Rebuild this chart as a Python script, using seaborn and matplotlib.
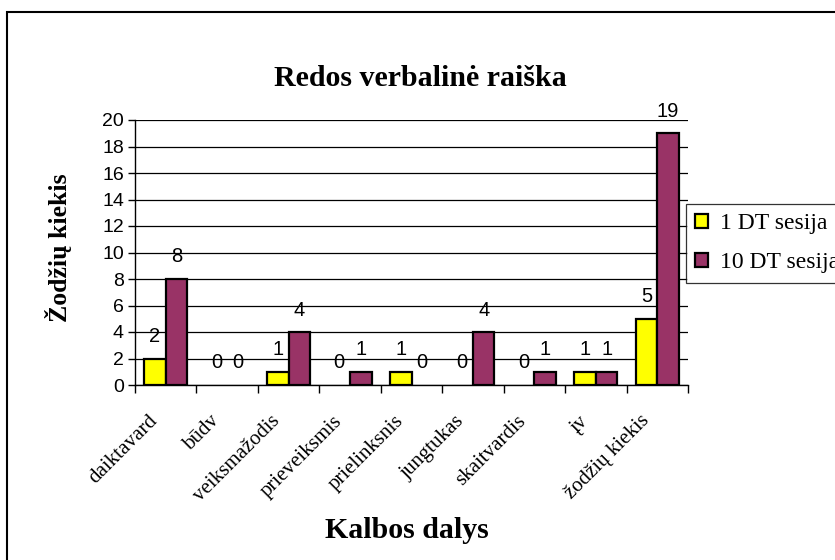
import matplotlib.pyplot as plt
import matplotlib.transforms as mtransforms
from matplotlib.patches import Rectangle
import numpy as np
import pandas as pd
import seaborn as sns

categories = ['daiktavard', 'būdv', 'veiksmažodis', 'prieveiksmis', 'prielinksnis',
              'jungtukas', 'skaitvardis', 'įv', 'žodžių kiekis']
session_1 = [2, 0, 1, 0, 1, 0, 0, 1, 5]
session_10 = [8, 0, 4, 1, 0, 4, 1, 1, 19]
series_names = ['1 DT sesija', '10 DT sesija']
y_ticks = [0, 2, 4, 6, 8, 10, 12, 14, 16, 18, 20]

df = pd.DataFrame({
    'kategorija': categories * 2,
    'reiksme': session_1 + session_10,
    'sesija': [series_names[0]] * len(categories) + [series_names[1]] * len(categories),
})

serif = 'Liberation Serif'
sans = 'Liberation Sans'

fig = plt.figure(figsize=(8.35, 5.6), dpi=100)
ax = fig.add_axes([135 / 835, 1 - 385 / 560, (688 - 135) / 835, (385 - 120) / 560])

sns.barplot(data=df, x='kategorija', y='reiksme', hue='sesija',
            palette=['#FFFF00', '#993366'], saturation=1, edgecolor='black', linewidth=1.6,
            width=0.7, ax=ax, legend=True)

# empty bars draw no outline
for p in ax.patches:
    if p.get_height() == 0:
        p.set_linewidth(0)

ax.set_ylim(0, 20)
ax.set_xlim(-0.5, len(categories) - 0.5)
ax.set_yticks(y_ticks)
ax.set_yticklabels([str(t) for t in y_ticks], fontfamily=sans, fontsize=14)
ax.yaxis.grid(True, color='black', linewidth=0.9)
ax.set_axisbelow(True)
for s in ['top', 'right']:
    ax.spines[s].set_visible(False)
for s in ['left', 'bottom']:
    ax.spines[s].set_color('black')
    ax.spines[s].set_linewidth(1.0)
ax.tick_params(axis='y', length=5, width=1, color='black', pad=3)

# category boundaries get the ticks, labels sit at the centres
ax.set_xticks(np.arange(len(categories)))
ax.set_xticklabels(categories, fontfamily=serif, fontsize=15,
                   rotation=45, ha='right', va='center', rotation_mode='anchor')
ax.tick_params(axis='x', which='major', length=0, pad=24)
ax.set_xticks(np.arange(-0.5, len(categories), 1), minor=True)
ax.tick_params(axis='x', which='minor', length=6, width=1, color='black')
shift = mtransforms.ScaledTranslation(-11 / 100, 0, fig.dpi_scale_trans)
for lab in ax.get_xticklabels():
    lab.set_transform(lab.get_transform() + shift)

ax.set_xlabel('')
ax.set_ylabel('')

for cont in ax.containers:
    ax.bar_label(cont, fmt='%d', padding=9, fontfamily=sans, fontsize=14.5)

handles, labels = ax.get_legend_handles_labels()
leg = ax.legend(handles, labels, loc='upper left',
                bbox_to_anchor=(686 / 835, 1 - 204 / 560), bbox_transform=fig.transFigure,
                prop={'family': serif, 'size': 17}, handlelength=0.55, handleheight=0.55,
                handletextpad=0.5, labelspacing=0.75, borderpad=0.4,
                frameon=True, fancybox=False, borderaxespad=0)
leg.get_frame().set_edgecolor('black')
leg.get_frame().set_linewidth(0.9)
for h in leg.legend_handles:
    h.set_linewidth(1.6)

fig.text(420 / 835, 1 - 78 / 560, 'Redos verbalinė raiška', ha='center', va='center',
         fontfamily=serif, fontweight='bold', fontsize=21.5)
fig.text(407 / 835, 1 - 530 / 560, 'Kalbos dalys', ha='center', va='center',
         fontfamily=serif, fontweight='bold', fontsize=21.5)
fig.text(58 / 835, 1 - 248 / 560, 'Žodžių kiekis', ha='center', va='center', rotation=90,
         fontfamily=serif, fontweight='bold', fontsize=18.5)

fig.add_artist(Rectangle((7 / 835, -0.1), 1.2, 1 - 12 / 560 + 0.1, transform=fig.transFigure,
                         fill=False, edgecolor='black', linewidth=1.5))

fig.savefig('out.png', dpi=100)
